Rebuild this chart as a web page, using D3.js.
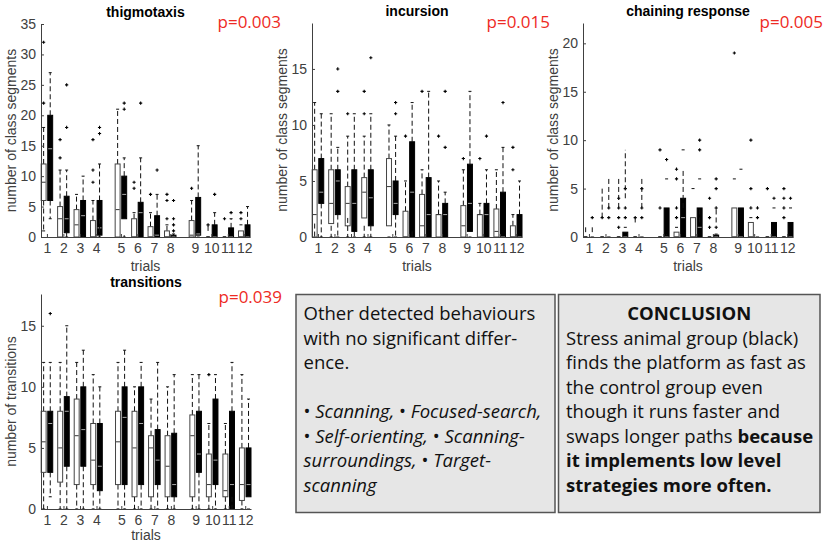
<!DOCTYPE html>
<html>
<head>
    <script src="https://d3js.org/d3.v7.min.js"></script>
    <style>
        body { margin: 0; background: #fff; }
        svg { display: block; font-family: "Liberation Sans", Arial, Helvetica, sans-serif; }
        .axis path, .axis line { stroke: #404040; stroke-width: 1; }
        .axis text { fill: #404040; font-size: 14px; font-family: "Liberation Sans", Arial, sans-serif; }
        .lab { fill: #404040; font-size: 14px; }
        .ttl { fill: #000; font-size: 14px; font-weight: bold; }
        .pval { fill: #ee2a24; font-size: 17px; font-family: "Open Sans", sans-serif; }
        .note { fill: #111; font-size: 18.5px; font-family: "Open Sans", sans-serif; }
        .note rect { fill: #e6e6e6; }
    </style>
</head>
<body>
    <svg width="827" height="542"></svg>
    <script>
        // trial labels and their x positions (three blocks of four)
        let trials = ["1", "2", "3", "4", "5", "6", "7", "8", "9", "10", "11", "12"];
        let trialPos = [1, 2, 3, 4, 5.5, 6.5, 7.5, 8.5, 10, 11, 12, 13];

        // each entry: [lower whisker, q1, median, q3, upper whisker]
        let thigmoCtrl = [[1, 6, 9, 12, 18], [0, 0, 3, 5, 11], [0, 0, 2, 4.5, 7], [0, 0, 0, 2.7, 6],
            [0, 0, 4.5, 12, 21], [0, 0, 0, 3, 4], [0, 0, 0, 1.7, 4], [0, 0, 0, 1, 2],
            [0, 0, 0.3, 2.7, 6], [0, 0, 0, 0, 0], [0, 0, 0, 0, 0], [0, 0, 0, 1, 2]];
        let thigmoCtrlOut = [[22, 32], [13, 16], [], [9, 11, 16], [], [8, 9], [7], [3, 6, 7], [8], [2], [3], [3, 4]];
        let thigmoStress = [[3, 6, 14.5, 20, 27], [0, 0.7, 3, 6.7, 11], [0, 0, 3.5, 6, 10], [0, 0.3, 1.5, 6, 12],
            [0, 3, 7, 10, 13], [0, 0, 4, 5.7, 13], [0, 0, 0.3, 3.5, 7], [0, 0, 0, 0.3, 0.5],
            [0, 0.3, 0.5, 6.5, 15], [0, 0, 0, 2, 4], [0, 0, 0, 1.5, 3], [0, 0, 0, 2, 5]];
        let thigmoStressOut = [[], [18, 25], [], [17, 18], [21, 22], [22], [11], [1, 2, 3, 6], [], [7], [4], []];

        let incursionCtrl = [[0, 0, 2, 6, 12], [0, 1.2, 3, 6, 11], [0, 1, 3, 4.5, 9], [0, 1.7, 4, 5.3, 9],
            [0, 1, 4.5, 7, 10], [0, 0, 0, 2.3, 5], [0, 0, 1, 3.8, 6], [0, 0, 2, 2, 5],
            [0, 0, 1, 2.8, 6], [0, 0, 2, 2, 3], [0, 0, 0.5, 2.5, 6], [0, 0, 0, 1, 2]];
        let incursionCtrlOut = [[], [], [11], [11, 13], [], [9], [13], [9], [7], [7], [], [6, 8]];
        let incursionStress = [[0, 3, 4, 7, 11], [0, 2, 5, 6, 8], [0, 0.5, 3, 6, 11], [0, 1, 3.5, 6, 11],
            [0, 2, 3, 5, 9], [0, 0, 4, 8.5, 12], [0, 0, 2, 5.3, 13], [0, 0, 2, 3, 4],
            [0, 0.5, 3, 6.5, 13], [0, 0, 2, 3, 6], [0, 0, 0, 4, 8], [0, 0, 0, 2, 5]];
        let incursionStressOut = [[], [13, 15], [], [16], [11, 12], [], [], [8, 13], [], [9], [12], []];

        let chainCtrl = [[0, 0, 0, 0, 0], [0, 0, 0, 0, 0], [0, 0, 0, 0, 0], [0, 0, 0, 0, 0],
            [0, 0, 0, 0, 0], [0, 0, 0, 0.5, 1], [0, 0, 0, 2, 5], [0, 0, 0, 0, 0],
            [0, 0, 0, 3, 6], [0, 0, 0, 1.5, 2], [0, 0, 0, 0, 0], [0, 0, 0, 0, 0]];
        let chainCtrlOut = [[], [2], [1, 2, 3, 4], [2], [3, 9], [2, 3, 6, 7], [], [1, 2, 4], [19], [3, 5, 10], [5], [2, 3, 4, 5]];
        let chainStress = [[0, 0, 0, 0, 0], [0, 0, 0, 0, 0], [0, 0, 0, 0.5, 1], [0, 0, 0, 0, 0],
            [0, 0, 0, 3, 6], [0, 0, 2, 4, 9], [0, 0, 1, 3, 6], [0, 0, 0, 0.2, 0.3],
            [0, 0, 0, 3, 7], [0, 0, 0, 0, 0], [0, 0, 0, 1.5, 3], [0, 0, 0, 1.5, 3]];
        let chainStressOut = [[2], [2, 3], [2, 3, 5], [2, 3, 5], [8], [], [9, 10], [1, 3, 5, 6], [], [2, 3], [4], [4]];

        let transCtrl = [[0, 3, 5.5, 8, 12], [0, 2.2, 5, 8, 12], [0, 2, 6, 9, 12], [0, 2, 4, 7, 11],
            [0, 2, 5.5, 8, 12], [0, 1, 5, 8, 10], [0, 1, 5, 6, 9], [0, 1, 3.5, 6, 10],
            [0, 1, 6, 7.7, 11], [0, 1, 2, 4.5, 7], [0, 1, 1.5, 4.5, 7], [0, 0.7, 2, 5, 11]];
        let transCtrlOut = [[], [], [], [], [], [], [], [], [], [11], [], []];
        let transStress = [[1, 3, 7, 8, 12], [0, 3.5, 8, 9.2, 15], [0, 3.5, 6.5, 10, 13], [0, 1.5, 3.5, 7, 10],
            [0, 2, 7.5, 10, 13], [0, 2, 7, 10, 12], [0, 2, 4, 6.5, 12], [0, 1, 2, 6.2, 11],
            [0, 3, 4.5, 8, 11], [0, 2, 4, 9, 11], [0, 0, 2, 8, 12], [0, 1, 2, 5, 9]];
        let transStressOut = [[16], [], [], [], [], [], [], [], [], [], [], []];

        let titles = ["thigmotaxis", "incursion", "chaining response", "transitions"];
        let pValues = ["p=0.003", "p=0.015", "p=0.005", "p=0.039"];
        let yLabels = ["number of class segments", "number of class segments", "number of class segments", "number of transitions"];

        // layout of the four axes
        let panels = [
            {left: 41, right: 250, top: 24, bottom: 237, ymax: 35, ticks: [0, 5, 10, 15, 20, 25, 30, 35],
             ctrl: thigmoCtrl, ctrlOut: thigmoCtrlOut, stress: thigmoStress, stressOut: thigmoStressOut, px: 281, py: 28},
            {left: 312, right: 522, top: 23, bottom: 237, ymax: 19.1, ticks: [0, 5, 10, 15],
             ctrl: incursionCtrl, ctrlOut: incursionCtrlOut, stress: incursionStress, stressOut: incursionStressOut, px: 550, py: 28},
            {left: 583, right: 793, top: 23, bottom: 237, ymax: 22.1, ticks: [0, 5, 10, 15, 20],
             ctrl: chainCtrl, ctrlOut: chainCtrlOut, stress: chainStress, stressOut: chainStressOut, px: 823, py: 28},
            {left: 41, right: 251, top: 294, bottom: 509, ymax: 17.6, ticks: [0, 5, 10, 15],
             ctrl: transCtrl, ctrlOut: transCtrlOut, stress: transStress, stressOut: transStressOut, px: 282, py: 303}
        ];

        let svg = d3.select("svg");

        panels.forEach((p, k) => {
            let g = svg.append("g");
            let x = d3.scaleLinear().domain([0.64, 13.35]).range([p.left, p.right]);
            let y = d3.scaleLinear().domain([0, p.ymax]).range([p.bottom, p.top]);
            let half = (x(0.15) - x(0));

            // boxes for control (white, left) and stress (black, right)
            [{stats: p.ctrl, out: p.ctrlOut, off: -0.2, fill: "#fff", med: "#333"},
             {stats: p.stress, out: p.stressOut, off: 0.2, fill: "#000", med: "#aaa"}].forEach(grp => {
                let bx = g.append("g").selectAll("g")
                    .data(grp.stats)
                    .enter()
                    .append("g");
                let cx = (d, i) => x(trialPos[i] + grp.off);

                bx.filter(d => d[4] > d[3]).append("line")
                    .attr("x1", cx).attr("x2", cx)
                    .attr("y1", d => y(d[3])).attr("y2", d => y(d[4]))
                    .attr("stroke", "#111").attr("stroke-dasharray", "5,3");
                bx.filter(d => d[0] < d[1]).append("line")
                    .attr("x1", cx).attr("x2", cx)
                    .attr("y1", d => y(d[1])).attr("y2", d => y(d[0]))
                    .attr("stroke", "#111").attr("stroke-dasharray", "5,3");
                // whisker caps
                bx.append("line")
                    .attr("x1", (d, i) => cx(d, i) - 1.5).attr("x2", (d, i) => cx(d, i) + 1.5)
                    .attr("y1", d => y(d[4])).attr("y2", d => y(d[4]))
                    .attr("stroke", "#111");
                bx.append("line")
                    .attr("x1", (d, i) => cx(d, i) - 1.5).attr("x2", (d, i) => cx(d, i) + 1.5)
                    .attr("y1", d => y(d[0])).attr("y2", d => y(d[0]))
                    .attr("stroke", "#111");

                bx.append("rect")
                    .attr("x", (d, i) => cx(d, i) - half)
                    .attr("width", half * 2)
                    .attr("y", d => y(d[3]))
                    .attr("height", d => y(d[1]) - y(d[3]))
                    .attr("fill", grp.fill)
                    .attr("stroke", grp.fill == "#fff" ? "#444" : "#000");
                bx.append("line")
                    .attr("x1", (d, i) => cx(d, i) - half + 0.5).attr("x2", (d, i) => cx(d, i) + half - 0.5)
                    .attr("y1", d => y(d[2])).attr("y2", d => y(d[2]))
                    .attr("stroke", grp.med);

                // outliers as small plus signs
                bx.selectAll("path")
                    .data((d, i) => grp.out[i].map(v => ({v: v, i: i})))
                    .enter()
                    .append("path")
                    .attr("d", o => {
                        let px = x(trialPos[o.i] + grp.off), py = y(o.v);
                        return `M${px - 1.6},${py}H${px + 1.6}M${px},${py - 1.6}V${py + 1.6}`;
                    })
                    .attr("stroke", "#000")
                    .attr("stroke-width", 1.1);
            });

            // axes with inward ticks
            g.append("g")
                .attr("class", "axis")
                .attr("transform", `translate(0,${p.bottom})`)
                .call(d3.axisBottom(x).tickValues(trialPos).tickFormat((d, i) => trials[i])
                    .tickSizeInner(-3).tickSizeOuter(0).tickPadding(6));
            g.append("g")
                .attr("class", "axis")
                .attr("transform", `translate(${p.left},0)`)
                .call(d3.axisLeft(y).tickValues(p.ticks)
                    .tickSizeInner(-3).tickSizeOuter(0).tickPadding(5));
            g.selectAll(".axis .domain").attr("stroke", "#404040");

            let mid = (p.left + p.right) / 2;
            g.append("text").attr("class", "ttl")
                .attr("x", mid).attr("y", p.top - 7)
                .attr("text-anchor", "middle").text(titles[k]);
            g.append("text").attr("class", "lab")
                .attr("x", mid).attr("y", Math.min(p.bottom + 34, 540))
                .attr("text-anchor", "middle").text("trials");
            g.append("text").attr("class", "lab")
                .attr("transform", `translate(${p.left - 25},${(p.top + p.bottom) / 2}) rotate(-90)`)
                .attr("text-anchor", "middle").text(yLabels[k]);
            g.append("text").attr("class", "pval")
                .attr("x", p.px).attr("y", p.py)
                .attr("text-anchor", "end").text(pValues[k]);
        });

        // the two text boxes
        let noteLines1 = [
            [["Other detected behaviours", ""]],
            [["with no significant differ-", ""]],
            [["ence.", ""]],
            [],
            [["• ", ""], ["Scanning,", "i"], [" • ", ""], ["Focused-search,", "i"]],
            [["• ", ""], ["Self-orienting,", "i"], [" • ", ""], ["Scanning-", "i"]],
            [["surroundings,", "i"], [" • ", ""], ["Target-", "i"]],
            [["scanning", "i"]]
        ];
        let noteLines2 = [
            [["Stress animal group (black)", ""]],
            [["finds the platform as fast as", ""]],
            [["the control group even", ""]],
            [["though it runs faster and", ""]],
            [["swaps longer paths ", ""], ["because", "b"]],
            [["it implements low level", "b"]],
            [["strategies more often.", "b"]]
        ];

        function noteBox(x0, x1, lines, heading) {
            let g = svg.append("g").attr("class", "note");
            g.append("rect")
                .attr("x", x0).attr("y", 294.5)
                .attr("width", x1 - x0).attr("height", 218)
                .attr("stroke", "#555").attr("stroke-width", 1.5);
            let row = 0;
            if (heading) {
                g.append("text").attr("x", (x0 + x1) / 2).attr("y", 320)
                    .attr("text-anchor", "middle").attr("font-weight", "bold").text(heading);
                row = 1;
            }
            lines.forEach((segs, j) => {
                let t = g.append("text").attr("x", x0 + 7.5).attr("y", 320 + (row + j) * 24.5);
                segs.forEach(s => {
                    t.append("tspan")
                        .attr("font-style", s[1] == "i" ? "italic" : "normal")
                        .attr("font-weight", s[1] == "b" ? "bold" : "normal")
                        .text(s[0]);
                });
            });
        }
        noteBox(296, 555, noteLines1, null);
        noteBox(558.5, 820, noteLines2, "CONCLUSION");
    </script>
</body>
</html>
